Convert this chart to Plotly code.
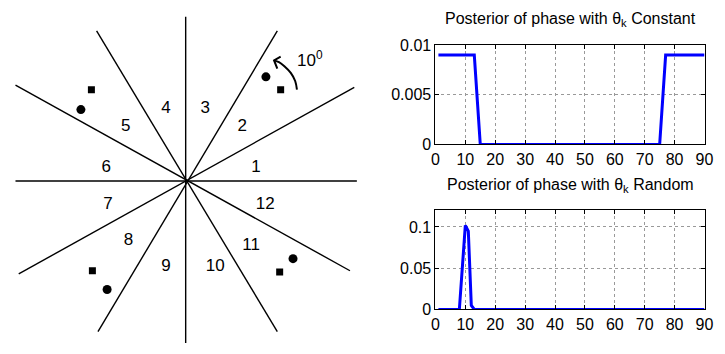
import plotly.graph_objects as go

# ---------------- data ----------------
# Left diagram: sector boundary lines (endpoints relative to centre, pixel-like units)
line_x0 = [174.3, 0.0, 93.3, 171.7, -90.7, -173.3]
line_y0 = [0.0, 172.4, 157.7, 98.4, 157.7, 100.7]
line_x1 = [-173.3, 0.0, -89.3, -170.0, 93.3, 167.3]
line_y1 = [0.0, -170.3, -158.3, -97.6, -158.3, -94.3]

sector_labels = ["1", "2", "3", "4", "5", "6", "7", "8", "9", "10", "11", "12"]
label_x = [71.7, 57.7, 20.0, -20.0, -61.0, -81.0, -79.0, -58.3, -20.0, 30.0, 66.7, 81.0]
label_y = [13.4, 56.7, 75.7, 75.7, 56.7, 13.4, -25.0, -62.6, -90.0, -90.0, -68.3, -25.0]

circle_x = [81.7, -106.7, -80.0, 109.3]
circle_y = [109.4, 75.0, -114.0, -81.6]
square_x = [96.7, -96.0, -95.0, 95.7]
square_y = [95.7, 95.7, -94.3, -95.6]

arc_x = [113.3, 111.5, 107.0, 100.5, 95.0, 90.0]
arc_y = [96.0, 105.0, 113.5, 120.5, 124.8, 126.7]
head_x = [96.7, 90.0, 93.3]
head_y = [130.5, 126.7, 118.0]
rot_label = "10<sup>0</sup>"

# Right plots
phase = [1, 13, 15, 75, 77, 90]
post_const = [0.009, 0.009, 0.0, 0.0, 0.009, 0.009]
phase_r = [1, 8, 10, 11, 12, 13, 90]
post_rand = [0.0, 0.0, 0.102, 0.095, 0.005, 0.0, 0.0]

x_ticks = [0, 10, 20, 30, 40, 50, 60, 70, 80, 90]
y1_ticks = [0, 0.005, 0.01]
y1_text = ["0", "0.005", "0.01"]
y2_ticks = [0, 0.05, 0.1]
y2_text = ["0", "0.05", "0.1"]

title1 = "Posterior of phase with θ<sub>k</sub> Constant"
title2 = "Posterior of phase with θ<sub>k</sub> Random"

FONT = "Liberation Sans, Arial, sans-serif"

fig = go.Figure()

# ---- left diagram ----
for a, b, c, d in zip(line_x0, line_y0, line_x1, line_y1):
    fig.add_trace(go.Scatter(x=[a, c], y=[b, d], mode="lines",
                             line=dict(color="black", width=1.4),
                             xaxis="x3", yaxis="y3", showlegend=False, hoverinfo="skip"))
fig.add_trace(go.Scatter(x=label_x, y=label_y, mode="text", text=sector_labels,
                         textfont=dict(family=FONT, size=17, color="black"),
                         xaxis="x3", yaxis="y3", showlegend=False))
fig.add_trace(go.Scatter(x=circle_x, y=circle_y, mode="markers",
                         marker=dict(symbol="circle", size=9, color="black"),
                         xaxis="x3", yaxis="y3", showlegend=False))
fig.add_trace(go.Scatter(x=square_x, y=square_y, mode="markers",
                         marker=dict(symbol="square", size=7, color="black"),
                         xaxis="x3", yaxis="y3", showlegend=False))
fig.add_trace(go.Scatter(x=arc_x, y=arc_y, mode="lines", line=dict(color="black", width=2, shape="spline"),
                         xaxis="x3", yaxis="y3", showlegend=False))
fig.add_trace(go.Scatter(x=head_x, y=head_y, mode="lines", line=dict(color="black", width=2),
                         xaxis="x3", yaxis="y3", showlegend=False))
fig.add_annotation(x=111.0, y=128.5, xref="x3", yref="y3", text=rot_label, showarrow=False,
                   xanchor="left", yanchor="middle", font=dict(family=FONT, size=17, color="black"))

# ---- right plots ----
fig.add_trace(go.Scatter(x=phase, y=post_const, mode="lines", line=dict(color="#0000ff", width=3),
                         xaxis="x", yaxis="y", showlegend=False))
fig.add_trace(go.Scatter(x=phase_r, y=post_rand, mode="lines", line=dict(color="#0000ff", width=3),
                         xaxis="x2", yaxis="y2", showlegend=False))

axis_common = dict(showline=True, linecolor="black", linewidth=1, mirror="ticks",
                   ticks="inside", ticklen=4, tickcolor="black", tickwidth=1,
                   showgrid=True, gridcolor="#999999", griddash="dot", gridwidth=1,
                   zeroline=False, tickfont=dict(family=FONT, size=16, color="black"))

x_dom = [439.3 / 725, 713.3 / 725]
fig.update_layout(
    width=725, height=354, margin=dict(l=0, r=0, t=0, b=0),
    paper_bgcolor="white", plot_bgcolor="white", showlegend=False,
    xaxis=dict(domain=x_dom, range=[0, 90], tickvals=x_ticks, anchor="y", **axis_common),
    yaxis=dict(domain=[1 - 143.3 / 354, 1 - 39 / 354], range=[0, 0.01], tickvals=y1_ticks,
               ticktext=y1_text, anchor="x", **axis_common),
    xaxis2=dict(domain=x_dom, range=[0, 90], tickvals=x_ticks, anchor="y2", **axis_common),
    yaxis2=dict(domain=[1 - 316.7 / 354, 1 - 212.7 / 354], range=[0, 0.12], tickvals=y2_ticks,
                ticktext=y2_text, anchor="x2", **axis_common),
    xaxis3=dict(domain=[0, 370 / 725], range=[-185, 185], visible=False, anchor="y3"),
    yaxis3=dict(domain=[0, 1], range=[-172.3, 181.7], visible=False, anchor="x3"),
)

fig.add_annotation(x=576.7 / 725, y=1 - 12.3 / 354, xref="paper", yref="paper", text=title1,
                   showarrow=False, xanchor="center", yanchor="middle",
                   font=dict(family=FONT, size=16, color="black"))
fig.add_annotation(x=576.7 / 725, y=1 - 186.7 / 354, xref="paper", yref="paper", text=title2,
                   showarrow=False, xanchor="center", yanchor="middle",
                   font=dict(family=FONT, size=16, color="black"))

fig.write_html("out.html")
